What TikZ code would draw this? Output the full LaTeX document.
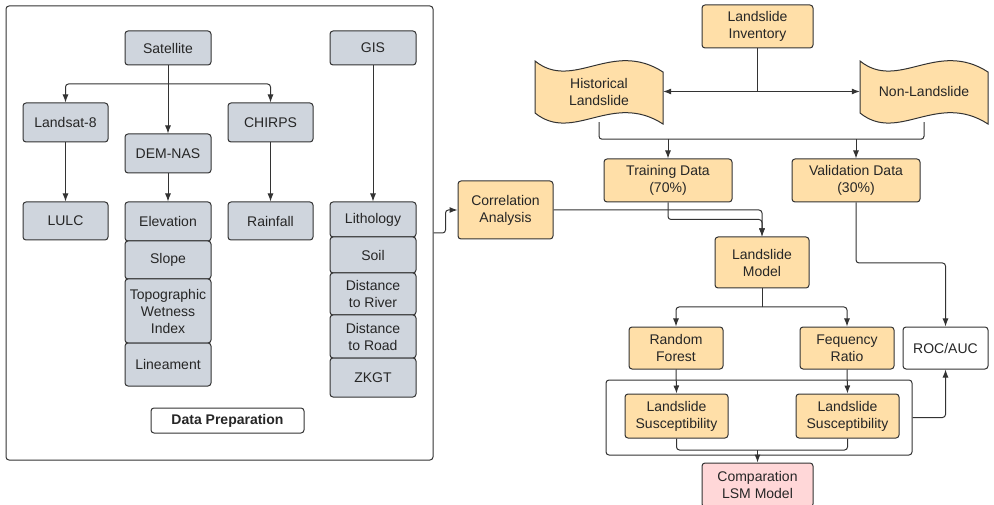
\documentclass[tikz,border=0pt]{standalone}
\usepackage{fontspec}
\setmainfont{Liberation Sans}
\usetikzlibrary{arrows.meta}
\definecolor{linec}{HTML}{333333}
\definecolor{grayfill}{HTML}{CFD5DD}
\definecolor{orangefill}{HTML}{FFDFA8}
\definecolor{pinkfill}{HTML}{FFD7D8}
\begin{document}
\begin{tikzpicture}[x=1pt, y=-1pt,
  >={Latex[length=8pt,width=6pt]},
  every node/.style={font=\fontsize{14}{17}\selectfont, text=black!85, align=center, inner sep=0pt},
  box/.style={draw=linec, line width=1pt, rounded corners=3pt},
  gbox/.style={box, fill=grayfill},
  obox/.style={box, fill=orangefill},
  wbox/.style={box, fill=white},
  pbox/.style={box, fill=pinkfill},
  conn/.style={draw=linec, line width=1pt, rounded corners=3pt}]
\useasboundingbox (0,0) rectangle (994,505);

% data preparation panel
\node[wbox, minimum width=427pt, minimum height=454pt] (prep) at (219.5,233) {};

\node[gbox, minimum width=86pt, minimum height=34pt] (sat) at (168,48) {Satellite};
\node[gbox, minimum width=86pt, minimum height=34pt] (gis) at (373,48) {GIS};
\node[gbox, minimum width=85pt, minimum height=39pt] (landsat) at (65.5,122.5) {Landsat-8};
\node[gbox, minimum width=86pt, minimum height=39pt] (dem) at (168,153.5) {DEM-NAS};
\node[gbox, minimum width=85pt, minimum height=39pt] (chirps) at (270.5,122.5) {CHIRPS};

\node[gbox, minimum width=85pt, minimum height=38pt] (lulc) at (65.5,221) {LULC};
\node[gbox, minimum width=85pt, minimum height=38pt] (rain) at (270.5,221) {Rainfall};
\node[gbox, minimum width=86pt, minimum height=39pt] (elev) at (168,221.5) {Elevation};
\node[gbox, minimum width=86pt, minimum height=38pt] (slope) at (168,260) {Slope};
\node[gbox, minimum width=86pt, minimum height=64pt] (twi) at (168,311) {Topographic\\Wetness\\Index};
\node[gbox, minimum width=86pt, minimum height=43pt] (linea) at (168,364.5) {Lineament};
\node[gbox, minimum width=86pt, minimum height=35pt] (litho) at (373,219.5) {Lithology};
\node[gbox, minimum width=86pt, minimum height=36pt] (soil) at (373,255) {Soil};
\node[gbox, minimum width=86pt, minimum height=42pt] (driver) at (373,294) {Distance\\to River};
\node[gbox, minimum width=86pt, minimum height=43pt] (droad) at (373,336.5) {Distance\\to Road};
\node[gbox, minimum width=86pt, minimum height=39pt] (zkgt) at (373,377.5) {ZKGT};
\node[wbox, minimum width=153pt, minimum height=25pt, font=\fontsize{14}{17}\selectfont\bfseries] (dataprep) at (227.5,420.5) {Data Preparation};

\coordinate (satsplit) at (168,84);
\draw[conn, ->] (sat.south) -- (dem.north);
\draw[conn, ->] (satsplit) -| (landsat.north);
\draw[conn, ->] (satsplit) -| (chirps.north);
\draw[conn, ->] (landsat.south) -- (lulc.north);
\draw[conn, ->] (dem.south) -- (elev.north);
\draw[conn, ->] (chirps.south) -- (rain.north);
\draw[conn, ->] (gis.south) -- (litho.north);

% inventory and samples
\node[obox, minimum width=111pt, minimum height=43pt] (inv) at (757.5,26.5) {Landslide\\Inventory};

\draw[draw=linec, line width=1pt, fill=orangefill]
  (535,61) .. controls (573.4,91.8) and (611.8,39) .. (663,72) -- (663,124)
  .. controls (611.8,91) and (573.4,143.8) .. (535,113) -- cycle;
\draw[draw=linec, line width=1pt, fill=orangefill]
  (860,61) .. controls (898.4,91.8) and (936.8,39) .. (988,72) -- (988,124)
  .. controls (936.8,91) and (898.4,143.8) .. (860,113) -- cycle;
\node[minimum width=128pt, minimum height=61pt] (hist) at (599,91.5) {Historical\\Landslide};
\node[minimum width=128pt, minimum height=61pt] (nonls) at (924,91.5) {Non-Landslide};

\node[obox, minimum width=128pt, minimum height=43pt] (train) at (668,180.5) {Training Data\\(70\%)};
\node[obox, minimum width=128pt, minimum height=43pt] (valid) at (856,180.5) {Validation Data\\(30\%)};
\node[obox, minimum width=95pt, minimum height=58pt] (corr) at (505.5,210) {Correlation\\Analysis};
\node[obox, minimum width=94pt, minimum height=51pt] (model) at (762,262.5) {Landslide\\Model};
\node[wbox, minimum width=85pt, minimum height=42pt] (roc) at (945.5,348) {ROC/AUC};
\node[obox, minimum width=94pt, minimum height=42pt] (rf) at (676,348) {Random\\Forest};
\node[obox, minimum width=94pt, minimum height=42pt] (fr) at (847,348) {Fequency\\Ratio};

\node[wbox, minimum width=306pt, minimum height=75pt] (lsbox) at (759,417.5) {};
\node[obox, minimum width=103pt, minimum height=44pt] (ls1) at (676.5,416) {Landslide\\Susceptibility};
\node[obox, minimum width=103pt, minimum height=44pt] (ls2) at (847.5,416) {Landslide\\Susceptibility};
\node[pbox, minimum width=111pt, minimum height=44pt] (comp) at (757.5,485) {Comparation\\LSM Model};

\draw[conn, ->] (prep.east) -- ++(12,0) |- (corr.west);

\coordinate (invsplit) at (inv.south |- hist.east);
\draw[conn] (inv.south) -- (invsplit);
\draw[conn, ->] (invsplit) -- (hist.east);
\draw[conn, ->] (invsplit) -- (nonls.west);

\draw[conn] (hist.south) -- ++(0,17) -| (nonls.south);
\draw[conn, ->] (train.north |- 0,139) -- (train.north);
\draw[conn, ->] (valid.north |- 0,139) -- (valid.north);

\draw[conn, ->] (corr.east) -| (model.north);
\draw[conn, ->] (train.south) -- ++(0,17) -| (model.north);
\draw[conn, ->] (valid.south) -- (valid.south |- 0,263) -| (roc.north);

\coordinate (modsplit) at (762,307);
\draw[conn] (model.south) -- (modsplit);
\draw[conn, ->] (modsplit) -| (rf.north);
\draw[conn, ->] (modsplit) -| (fr.north);
\draw[conn, ->] (rf.south) -- (ls1.north);
\draw[conn, ->] (fr.south) -- (ls2.north);

\coordinate (lsjoin) at (comp.north |- 0,450);
\draw[conn] (ls1.south) |- (lsjoin);
\draw[conn] (ls2.south) |- (lsjoin);
\draw[conn, ->] (lsjoin) -- (comp.north);
\draw[conn, ->] (lsbox.east) -| (roc.south);
\end{tikzpicture}
\end{document}
